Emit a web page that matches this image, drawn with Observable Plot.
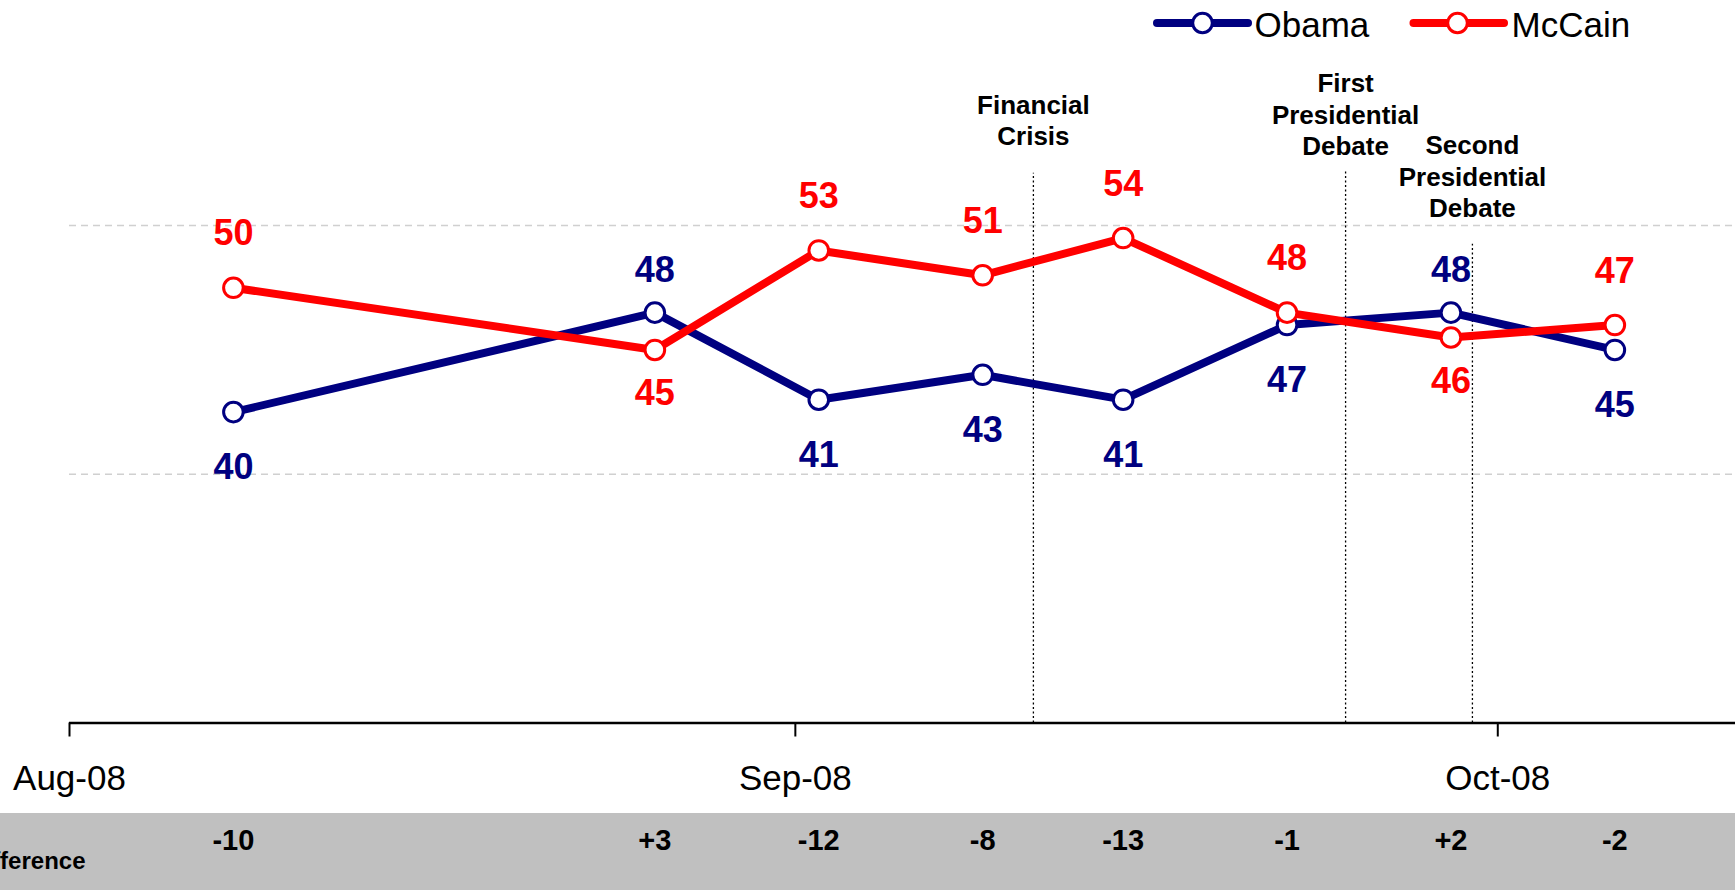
<!DOCTYPE html>
<html><head><meta charset="utf-8">
<script src="https://cdn.jsdelivr.net/npm/d3@7"></script>
<script src="https://cdn.jsdelivr.net/npm/@observablehq/plot@0.6"></script>
<style>
html,body{margin:0;padding:0;background:#fff;}
#wrap{position:relative;width:1735px;height:890px;overflow:hidden;font-family:"Liberation Sans",Arial,sans-serif;}
#band{position:absolute;left:0;top:813px;width:1735px;height:77px;background:#c0c0c0;}
#chart{position:absolute;left:0;top:0;}
#legend{position:absolute;left:0;top:0;}
</style></head><body>
<div id="wrap"><div id="band"></div><div id="chart"></div><div id="legend"></div></div>
<script>
// ---- data ----
const surveyDates = ["2008-08-08","2008-08-26","2008-09-02","2008-09-09","2008-09-15","2008-09-22","2008-09-29","2008-10-06"];
const obama  = [40, 48, 41, 43, 41, 47, 48, 45];
const mccain = [50, 45, 53, 51, 54, 48, 46, 47];
const seriesNames = ["Obama", "McCain"];
const seriesColors = ["#000080", "#ff0000"];
const xTicks = ["2008-08-01", "2008-09-01", "2008-10-01"];
const yGrid = [35, 55];
const eventDates = ["2008-09-11T04:00Z", "2008-09-24T12:00Z", "2008-09-29T22:00Z"];
const eventLabels = ["Financial\nCrisis", "First\nPresidential\nDebate", "Second\nPresidential\nDebate"];
const eventLineTop = [59.2, 59.3, 53.5];
const eventLabelY = [61.5, 60.7, 55.7];
const rowLabel = "Difference";

// ---- derived tables ----
const dates = surveyDates.map(d => new Date(d));
const rows = [];
dates.forEach((date, i) => {
  const lead = obama[i] > mccain[i];
  rows.push({date, series: "Obama", value: obama[i], up: obama[i] > mccain[i], lead});
  rows.push({date, series: "McCain", value: mccain[i], up: mccain[i] >= obama[i], lead});
});
const signed = v => (v > 0 ? "+" : "") + String(v);
const diffs = dates.map((date, i) => ({date, text: signed(obama[i] - mccain[i])}));
const events = eventDates.map((d, i) => ({date: new Date(d), label: eventLabels[i], top: eventLineTop[i], labelY: eventLabelY[i]}));

const font = "'Liberation Sans', Arial, sans-serif";
const labelMark = (filter, dy) => Plot.text(rows, {
  filter, x: "date", y: "value", text: d => String(d.value), fill: "series",
  dy, fontSize: 36, fontWeight: "bold"
});

const plot = Plot.plot({
  width: 1735, height: 890,
  marginLeft: 69, marginRight: 0, marginTop: 0, marginBottom: 167.5,
  style: {background: "transparent", fontFamily: font, color: "#000"},
  x: {type: "utc", domain: [new Date("2008-08-01"), new Date("2008-10-11T03:40Z")], axis: null},
  y: {domain: [15, 73.1], axis: null},
  color: {domain: seriesNames, range: seriesColors},
  marks: [
    Plot.ruleY(yGrid, {stroke: "#d0d0d0", strokeWidth: 1.5, strokeDasharray: "7,5"}),
    Plot.ruleX(events, {x: "date", y1: 15, y2: "top", stroke: "#000", strokeWidth: 1.3, strokeDasharray: "2,2.5"}),
    Plot.text(events, {x: "date", y: "labelY", text: "label", lineAnchor: "bottom", lineHeight: 1.2,
      fontSize: 26, fontWeight: "bold", fill: "#000"}),
    Plot.axisX({ticks: xTicks.map(d => new Date(d)), tickFormat: d3.utcFormat("%b-%y"),
      tickSize: 14, tickPadding: 28.6, fontSize: 35, strokeWidth: 2, stroke: "#000", fill: "#000"}),
    Plot.ruleY([15], {stroke: "#000", strokeWidth: 2.5}),
    Plot.line(rows, {x: "date", y: "value", z: "series", stroke: "series", strokeWidth: 8, strokeLinejoin: "round"}),
    Plot.dot(rows, {x: "date", y: "value", stroke: "series", fill: "#fff", r: 9.8, strokeWidth: 3}),
    labelMark(d => d.up && !d.lead, -54),
    labelMark(d => !d.up && !d.lead, 55.5),
    labelMark(d => d.up && d.lead, -42),
    labelMark(d => !d.up && d.lead, 44),
    Plot.text(diffs, {x: "date", text: "text", frameAnchor: "bottom", dy: 127, fontSize: 29, fontWeight: "bold", fill: "#000"}),
    Plot.text([rowLabel], {frameAnchor: "bottom-left", dx: 16, dy: 145.8, textAnchor: "end", fontSize: 24, fontWeight: "bold", fill: "#000"})
  ]
});
document.getElementById("chart").appendChild(plot);

// ---- legend ----
const legendItems = [
  {name: seriesNames[0], color: seriesColors[0], x0: 1157, x1: 1248, cx: 1202.5, tx: 1254.5},
  {name: seriesNames[1], color: seriesColors[1], x0: 1413.5, x1: 1504, cx: 1457.5, tx: 1511.5}
];
const svg = d3.select("#legend").append("svg").attr("width", 1735).attr("height", 50);
const g = svg.selectAll("g").data(legendItems).join("g");
g.append("line").attr("x1", d => d.x0).attr("x2", d => d.x1).attr("y1", 23).attr("y2", 23)
  .attr("stroke", d => d.color).attr("stroke-width", 8).attr("stroke-linecap", "round");
g.append("circle").attr("cx", d => d.cx).attr("cy", 23).attr("r", 9.8)
  .attr("fill", "#fff").attr("stroke", d => d.color).attr("stroke-width", 3);
g.append("text").attr("x", d => d.tx).attr("y", 37.3).text(d => d.name)
  .attr("font-family", font).attr("font-size", 35).attr("fill", "#000");
</script>
</body></html>
